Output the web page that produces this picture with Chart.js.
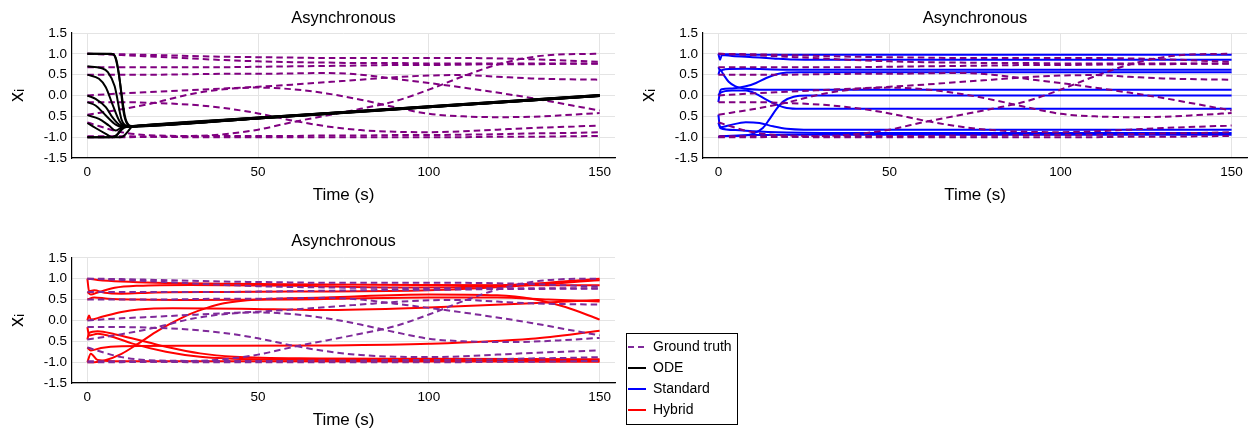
<!DOCTYPE html>
<html><head><meta charset="utf-8">
<script src="https://cdn.jsdelivr.net/npm/chart.js@4.4.1/dist/chart.umd.min.js"></script>
<style>
html,body{margin:0;padding:0;background:#fff;width:1253px;height:434px;overflow:hidden;}
canvas{position:absolute;}
</style></head><body>
<canvas id="c1" width="625" height="217" style="left:0;top:0;width:625px;height:217px"></canvas>
<canvas id="c2" width="623" height="217" style="left:630px;top:0;width:623px;height:217px"></canvas>
<canvas id="c3" width="745" height="217" style="left:0;top:217px;width:745px;height:217px"></canvas>
<script>
// ---------- text ----------
const panelTitle = 'Asynchronous';
const xAxisTitle = 'Time (s)';
const yAxisTitle = 'xᵢ';
const xTicks = [0, 50, 100, 150];
const yTicks = [-1.5, -1.0, -0.5, 0.0, 0.5, 1.0, 1.5];
const yTickLabels = ['-1.5', '-1.0', '0.5', '0.0', '0.5', '1.0', '1.5'];
const legendLabels = ['Ground truth', 'ODE', 'Standard', 'Hybrid'];

// ---------- ground truth (t = 0,10,...,150) ----------
const gtTime = [0, 10, 20, 30, 40, 50, 60, 70, 80, 90, 100, 110, 120, 130, 140, 150];
const gt1 = [1.00, 0.99, 0.97, 0.95, 0.93, 0.92, 0.91, 0.90, 0.90, 0.90, 0.90, 0.90, 0.89, 0.87, 0.84, 0.81];
const gt2 = [1.00, 0.97, 0.93, 0.89, 0.85, 0.82, 0.80, 0.79, 0.78, 0.78, 0.77, 0.77, 0.77, 0.77, 0.77, 0.77];
const gt3 = [0.68, 0.68, 0.68, 0.68, 0.68, 0.69, 0.70, 0.71, 0.72, 0.73, 0.73, 0.74, 0.75, 0.75, 0.76, 0.76];
const gt4 = [0.50, 0.50, 0.50, 0.51, 0.52, 0.52, 0.53, 0.54, 0.50, 0.40, 0.30, 0.19, 0.07, -0.06, -0.21, -0.36];
const gt5 = [0.00, 0.05, 0.09, 0.13, 0.17, 0.21, 0.26, 0.32, 0.38, 0.44, 0.48, 0.49, 0.45, 0.41, 0.39, 0.38];
const gt6 = [-0.46, -0.33, -0.17, 0.03, 0.15, 0.19, 0.15, 0.05, -0.10, -0.28, -0.44, -0.50, -0.52, -0.51, -0.47, -0.42];
const gt7 = [-0.16, -0.16, -0.18, -0.22, -0.30, -0.43, -0.60, -0.74, -0.83, -0.87, -0.88, -0.86, -0.82, -0.78, -0.75, -0.72];
const gt8 = [-0.65, -0.88, -0.96, -0.97, -0.93, -0.82, -0.64, -0.48, -0.32, -0.14, 0.14, 0.46, 0.74, 0.92, 0.99, 1.00];
const gt9 = [-1.00, -1.00, -0.99, -0.98, -0.97, -0.97, -0.97, -0.96, -0.96, -0.95, -0.95, -0.94, -0.93, -0.91, -0.90, -0.88];
const gt10 = [-0.98, -0.98, -0.99, -1.00, -1.00, -1.00, -1.00, -1.00, -1.00, -1.00, -1.00, -1.00, -0.99, -0.99, -0.98, -0.97];

// ---------- ODE model [t, value] ----------
const ode1 = [[0,1.0],[7,1.0],[8,0.95],[9,0.62],[10,0.05],[11,-0.5],[12,-0.7],[13,-0.73],[15,-0.72],[50,-0.53],[100,-0.26],[150,0.01]];
const ode2 = [[0,1.0],[7.5,0.99],[8.5,0.85],[9.5,0.35],[10.5,-0.35],[11.5,-0.66],[13,-0.74],[15,-0.735],[50,-0.545],[100,-0.275],[150,-0.005]];
const ode3 = [[0,0.70],[4,0.66],[6,0.56],[8,0.22],[10,-0.58],[11,-0.71],[13,-0.745],[15,-0.74],[50,-0.55],[100,-0.28],[150,-0.01]];
const ode4 = [[0,0.50],[3.4,0.40],[5.4,0.20],[7.3,-0.20],[9.3,-0.60],[10.7,-0.72],[13,-0.735],[15,-0.725],[50,-0.535],[100,-0.265],[150,0.005]];
const ode5 = [[0,0.0],[2.4,-0.08],[5.4,-0.28],[7.3,-0.52],[9.3,-0.70],[11,-0.74],[15,-0.73],[50,-0.54],[100,-0.27],[150,0.0]];
const ode6 = [[0,-0.16],[2.4,-0.24],[5.4,-0.48],[8.3,-0.70],[10,-0.75],[15,-0.745],[50,-0.555],[100,-0.285],[150,-0.015]];
const ode7 = [[0,-0.47],[3.4,-0.56],[6.3,-0.72],[8.3,-0.84],[10.2,-0.76],[12,-0.745],[15,-0.72],[50,-0.53],[100,-0.26],[150,0.015]];
const ode8 = [[0,-0.66],[2.4,-0.78],[5.4,-0.92],[7.3,-1.0],[8.5,-0.97],[10.2,-0.78],[12,-0.74],[15,-0.735],[50,-0.545],[100,-0.275],[150,-0.005]];
const ode9 = [[0,-1.0],[6.3,-1.0],[8.3,-0.96],[10.7,-0.78],[12.5,-0.74],[15,-0.73],[50,-0.54],[100,-0.27],[150,0.0]];
const ode10 = [[0,-1.0],[8.5,-1.0],[9.5,-1.0],[10.5,-0.98],[12,-0.85],[13,-0.76],[15,-0.74],[50,-0.55],[100,-0.28],[150,-0.01]];

// ---------- Standard model [t, value] ----------
const std1 = [[0,1.0],[0.5,0.99],[3,0.99],[10,0.98],[25,0.98],[150,0.98]];
const std2 = [[0,1.0],[0.5,0.86],[1,0.97],[4,0.95],[10,0.92],[16,0.89],[22,0.865],[30,0.86],[150,0.86]];
const std3 = [[0,0.68],[0.5,0.6],[2,0.63],[8,0.64],[20,0.62],[150,0.62]];
const std4 = [[0,0.5],[0.5,0.62],[1.5,0.5],[3,0.33],[5,0.22],[8,0.16],[12,0.14],[150,0.14]];
const std5 = [[0,-0.16],[0.5,0.1],[1,0.15],[4,0.17],[8,0.22],[11,0.3],[14,0.42],[17,0.51],[20,0.55],[24,0.56],[150,0.56]];
const std6 = [[0,0.0],[0.5,0.06],[4,0.12],[8,0.12],[11,0.04],[14,-0.1],[17,-0.22],[20,-0.3],[24,-0.32],[150,-0.32]];
const std7 = [[0,-1.0],[0.5,-0.98],[5,-0.97],[10,-0.92],[13,-0.78],[15,-0.56],[17,-0.32],[19,-0.14],[22,-0.03],[26,0.0],[150,0.0]];
const std8 = [[0,-0.65],[0.5,-0.76],[3,-0.72],[8,-0.64],[12,-0.66],[16,-0.74],[20,-0.8],[25,-0.82],[150,-0.82]];
const std9 = [[0,-0.46],[0.5,-0.78],[5,-0.83],[10,-0.86],[20,-0.89],[30,-0.9],[150,-0.9]];
const std10 = [[0,-1.0],[1,-0.98],[10,-0.95],[25,-0.94],[150,-0.94]];

// ---------- Hybrid model [t, value] ----------
const hyb1 = [[0,1.0],[3,0.97],[10,0.93],[20,0.9],[40,0.88],[70,0.86],[100,0.85],[150,0.84]];
const hyb2 = [[0,0.68],[1,0.62],[3,0.67],[8,0.78],[15,0.83],[30,0.85],[60,0.83],[90,0.79],[110,0.8],[130,0.88],[150,1.0]];
const hyb3 = [[0,1.0],[0.5,0.7],[2,0.72],[5,0.66],[10,0.64],[20,0.67],[40,0.68],[60,0.69],[100,0.72],[125,0.82],[150,0.96]];
const hyb4 = [[0,0.5],[2,0.55],[6,0.52],[15,0.5],[30,0.49],[60,0.5],[100,0.55],[120,0.55],[135,0.5],[150,0.45]];
const hyb5 = [[0,0.0],[0.5,0.12],[1,0.02],[4,0.08],[10,0.2],[15,0.26],[25,0.29],[45,0.28],[68,0.25],[100,0.31],[130,0.41],[150,0.49]];
const hyb6 = [[0,-1.0],[2,-1.0],[5,-0.96],[10,-0.8],[15,-0.55],[20,-0.28],[25,-0.05],[30,0.15],[35,0.3],[40,0.41],[50,0.5],[70,0.55],[100,0.62],[120,0.6],[130,0.52],[140,0.32],[150,0.02]];
const hyb7 = [[0,-0.65],[1,-0.72],[4,-0.66],[10,-0.62],[30,-0.61],[70,-0.6],[100,-0.56],[130,-0.44],[150,-0.25]];
const hyb8 = [[0,-0.46],[0.5,-0.3],[3,-0.26],[8,-0.33],[13,-0.43],[18,-0.53],[23,-0.63],[33,-0.79],[43,-0.87],[68,-0.91],[100,-0.92],[150,-0.93]];
const hyb9 = [[0,-0.16],[0.5,-0.36],[3,-0.32],[8,-0.41],[13,-0.55],[23,-0.75],[33,-0.87],[50,-0.93],[100,-0.95],[150,-0.96]];
const hyb10 = [[0,-1.0],[1,-0.8],[3,-0.95],[10,-0.98],[50,-0.98],[150,-0.99]];

// ---------- styling ----------
const FONT = "'Liberation Sans', Arial, Helvetica, sans-serif";
const gtColorTop = '#800080';
const gtColorBottom = '#7f2a9a';
const odeColor = '#000000';
const stdColor = '#0000ff';
const hybColor = '#ff0000';
const gtDash = [6.5, 4];
const gridColor = '#e4e4e4';

Chart.defaults.font.family = FONT;
Chart.defaults.color = '#000';

const groundTruth = [gt1, gt2, gt3, gt4, gt5, gt6, gt7, gt8, gt9, gt10];
const odeRuns = [ode1, ode2, ode3, ode4, ode5, ode6, ode7, ode8, ode9, ode10];
const stdRuns = [std1, std2, std3, std4, std5, std6, std7, std8, std9, std10];
const hybRuns = [hyb1, hyb2, hyb3, hyb4, hyb5, hyb6, hyb7, hyb8, hyb9, hyb10];

function toXY(arr) { return arr.map(p => ({x: p[0], y: p[1]})); }
function gtSeries(vals) { return gtTime.map((t, i) => ({x: t, y: vals[i]})); }
function lineBase(color) {
  return {borderColor: color, backgroundColor: color, borderWidth: 2, pointRadius: 0,
          cubicInterpolationMode: 'monotone', fill: false, borderCapStyle: 'butt'};
}
function gtDatasets(color) {
  return groundTruth.map(v => Object.assign(lineBase(color), {label: legendLabels[0], data: gtSeries(v), borderDash: gtDash}));
}
function modelDatasets(runs, color, label) {
  return runs.map(a => Object.assign(lineBase(color), {label: label, data: toXY(a)}));
}

function makeOptions(cfg) {
  const scales = {
    x: {
      type: 'linear', min: -4.5, max: 154.5, position: 'bottom',
      afterBuildTicks: s => { s.ticks = xTicks.map(v => ({value: v})); },
      afterFit: s => { s.height = cfg.xHeight; },
      grid: {color: gridColor, lineWidth: 1, drawTicks: false},
      border: {display: true, color: '#000', width: 1.2},
      ticks: {padding: 6, color: '#000', font: {family: FONT, size: 13.5}, maxRotation: 0, autoSkip: false},
      title: {display: true, text: xAxisTitle, color: '#000', font: {family: FONT, size: 17}, padding: {top: 0, bottom: cfg.xTitleBottom}}
    },
    y: {
      type: 'linear', min: -1.5, max: 1.5, position: 'left',
      afterBuildTicks: s => { s.ticks = yTicks.map(v => ({value: v})); },
      afterFit: s => { s.width = 70; },
      grid: {color: gridColor, lineWidth: 1, drawTicks: false},
      border: {display: true, color: '#000', width: 1.2},
      ticks: {padding: 5, color: '#000', font: {family: FONT, size: 13.5}, callback: (v, i) => yTickLabels[i]},
      title: {display: true, text: yAxisTitle, color: '#000', font: {family: FONT, size: 20}, padding: {top: 3, bottom: 0}}
    }
  };
  if (cfg.spacer) {
    scales.y2 = {type: 'linear', min: 0, max: 1, position: 'right', display: true,
      grid: {display: false, drawTicks: false}, border: {display: false}, ticks: {display: false},
      afterFit: s => { s.width = cfg.spacer; }};
  }
  return {
    responsive: false, animation: false, events: [],
    layout: {padding: cfg.padding},
    plugins: {
      title: {display: true, text: panelTitle, fullSize: false, color: '#000',
              font: {family: FONT, size: 16.5, weight: 'normal'},
              padding: {top: cfg.titleTop, bottom: cfg.titleBottom}},
      legend: cfg.legend || {display: false},
      tooltip: {enabled: false}
    },
    scales: scales
  };
}

const legendColors = [gtColorBottom, odeColor, stdColor, hybColor];
const legendItems = legendLabels.map((t, i) => ({
  text: t, strokeStyle: legendColors[i], fillStyle: legendColors[i], fontColor: '#000',
  lineWidth: 2, lineDash: i === 0 ? [6, 4] : [], pointStyle: 'line', hidden: false, datasetIndex: i
}));

const legendFrame = {
  id: 'legendFrame',
  afterDraw(chart) {
    const lg = chart.legend;
    if (!lg || !lg.legendHitBoxes || !lg.legendHitBoxes.length) return;
    const hb = lg.legendHitBoxes;
    let right = 0;
    hb.forEach(h => { right = Math.max(right, h.left + h.width); });
    const left = hb[0].left - 2;
    const top = hb[0].top - 7;
    const bottom = hb[hb.length - 1].top + hb[hb.length - 1].height + 7;
    const ctx = chart.ctx;
    ctx.save();
    ctx.strokeStyle = '#000';
    ctx.lineWidth = 1;
    ctx.strokeRect(Math.round(left) + 0.5, Math.round(top) + 0.5, Math.round(right + 5 - left), Math.round(bottom - top));
    ctx.restore();
  }
};

// top-left: ODE
new Chart(document.getElementById('c1'), {
  type: 'line',
  data: {datasets: modelDatasets(odeRuns, odeColor, legendLabels[1]).concat(gtDatasets(gtColorTop))},
  options: makeOptions({padding: {left: 2, right: 10, top: 0, bottom: 0}, titleTop: 8.4, titleBottom: 4.8, xHeight: 59, xTitleBottom: 11.3})
});

// top-right: Standard
new Chart(document.getElementById('c2'), {
  type: 'line',
  data: {datasets: gtDatasets(gtColorTop).concat(modelDatasets(stdRuns, stdColor, legendLabels[2]))},
  options: makeOptions({padding: {left: 3, right: 6, top: 0, bottom: 0}, titleTop: 8.4, titleBottom: 4.8, xHeight: 59, xTitleBottom: 11.3})
});

// bottom-left: Hybrid + legend
new Chart(document.getElementById('c3'), {
  type: 'line',
  data: {datasets: gtDatasets(gtColorBottom).concat(modelDatasets(hybRuns, hybColor, legendLabels[3]))},
  options: makeOptions({
    padding: {left: 2, right: 9, top: 0, bottom: 10}, titleTop: 14.6, titleBottom: 6.4,
    xHeight: 41, xTitleBottom: -6.5, spacer: 6,
    legend: {display: true, position: 'right', align: 'end', fullSize: true, maxWidth: 115,
      labels: {usePointStyle: true, pointStyle: 'line', pointStyleWidth: 18, padding: 7,
               color: '#000', font: {family: FONT, size: 14}, generateLabels: () => legendItems}}
  }),
  plugins: [legendFrame]
});
</script>
</body></html>
